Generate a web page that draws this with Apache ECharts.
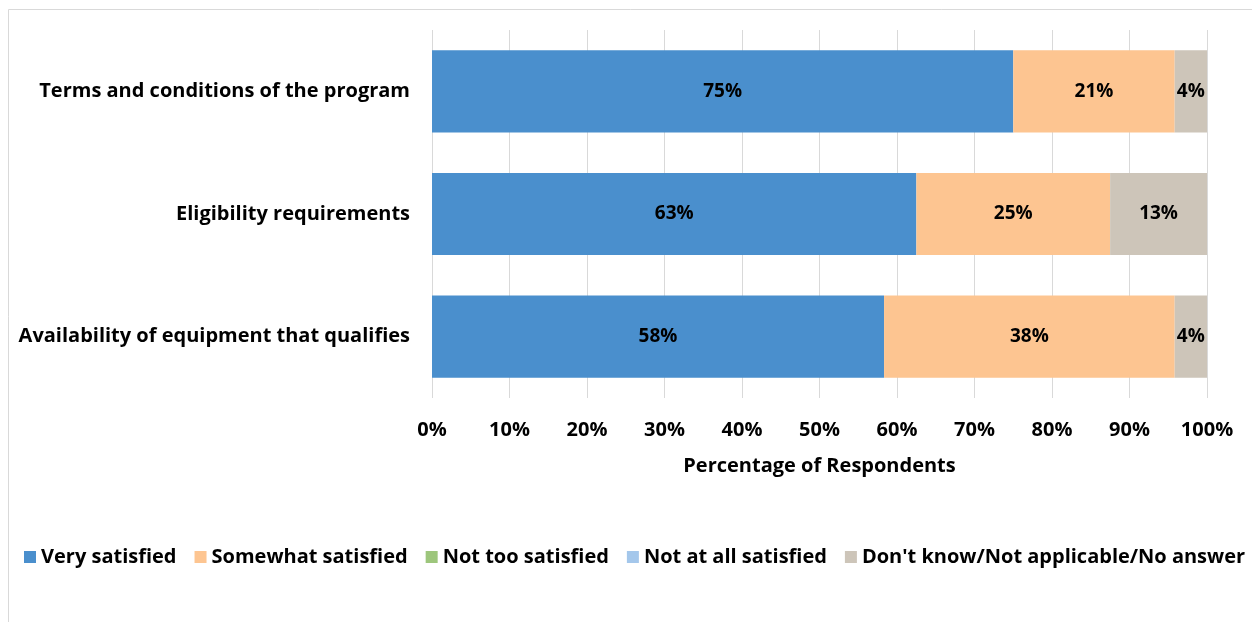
<!DOCTYPE html>
<html>
<head>
<meta charset="utf-8">
<script src="https://cdn.jsdelivr.net/npm/echarts@6/dist/echarts.min.js"></script>
<style>
  html, body { margin: 0; padding: 0; background: #fff; }
  #chart { width: 1252px; height: 622px; }
</style>
</head>
<body>
<div id="chart"></div>
<script>
// data (24 respondents, shares in %)
const categories = [
  'Terms and conditions of the program',
  'Eligibility requirements',
  'Availability of equipment that qualifies'
]
const seriesNames = [
  'Very satisfied',
  'Somewhat satisfied',
  'Not too satisfied',
  'Not at all satisfied',
  "Don't know/Not applicable/No answer"
]
const verySatisfied = [75, 62.5, 58.33]
const somewhatSatisfied = [20.83, 25, 37.5]
const notTooSatisfied = [0, 0, 0]
const notAtAllSatisfied = [0, 0, 0]
const dontKnow = [4.17, 12.5, 4.17]
const xTicks = [0, 10, 20, 30, 40, 50, 60, 70, 80, 90, 100]

const colors = ['#4a8fcd', '#fdc591', '#9dc67c', '#a4c7eb', '#cdc5b9']
const fontFam = '"Open Sans", "Noto Sans", sans-serif'

const seriesData = [verySatisfied, somewhatSatisfied, notTooSatisfied, notAtAllSatisfied, dontKnow]

const chart = echarts.init(document.getElementById('chart'))
chart.setOption({
  animation: false,
  color: colors,
  graphic: [
    {
      type: 'rect',
      shape: { x: 8.5, y: 9.5, width: 1300, height: 700 },
      style: { fill: 'none', stroke: '#d9d9d9', lineWidth: 1 },
      silent: true
    }
  ],
  grid: {
    left: 432,
    right: 45,
    top: 30,
    bottom: 224
  },
  legend: {
    top: 542,
    left: 19,
    itemWidth: 12,
    itemHeight: 12,
    itemGap: 18,
    icon: 'rect',
    data: seriesNames,
    textStyle: {
      fontFamily: fontFam,
      fontWeight: 'bold',
      fontSize: 20,
      color: '#000'
    }
  },
  xAxis: {
    type: 'value',
    min: 0,
    max: 100,
    interval: 10,
    name: 'Percentage of Respondents',
    nameLocation: 'middle',
    nameGap: 58,
    nameTextStyle: {
      fontFamily: fontFam,
      fontWeight: 'bold',
      fontSize: 20,
      color: '#000'
    },
    axisLine: { show: false },
    axisTick: { show: false },
    axisLabel: {
      margin: 22,
      fontFamily: fontFam,
      fontWeight: 'bold',
      fontSize: 20,
      color: '#000',
      formatter: v => (xTicks.indexOf(v) >= 0 ? v + '%' : '')
    },
    splitLine: { lineStyle: { color: '#d9d9d9', width: 1 } }
  },
  yAxis: {
    type: 'category',
    inverse: true,
    data: categories,
    axisLine: { show: false },
    axisTick: { show: false },
    axisLabel: {
      margin: 22,
      fontFamily: fontFam,
      fontWeight: 'bold',
      fontSize: 20,
      color: '#000'
    }
  },
  series: seriesNames.map((name, i) => ({
    name: name,
    type: 'bar',
    stack: 'total',
    barWidth: '67%',
    data: seriesData[i],
    label: {
      show: true,
      position: 'inside',
      fontFamily: fontFam,
      fontWeight: 'bold',
      fontSize: 19,
      color: '#000',
      formatter: p => (p.value > 0 ? Math.round(p.value) + '%' : '')
    }
  }))
})
</script>
</body>
</html>
